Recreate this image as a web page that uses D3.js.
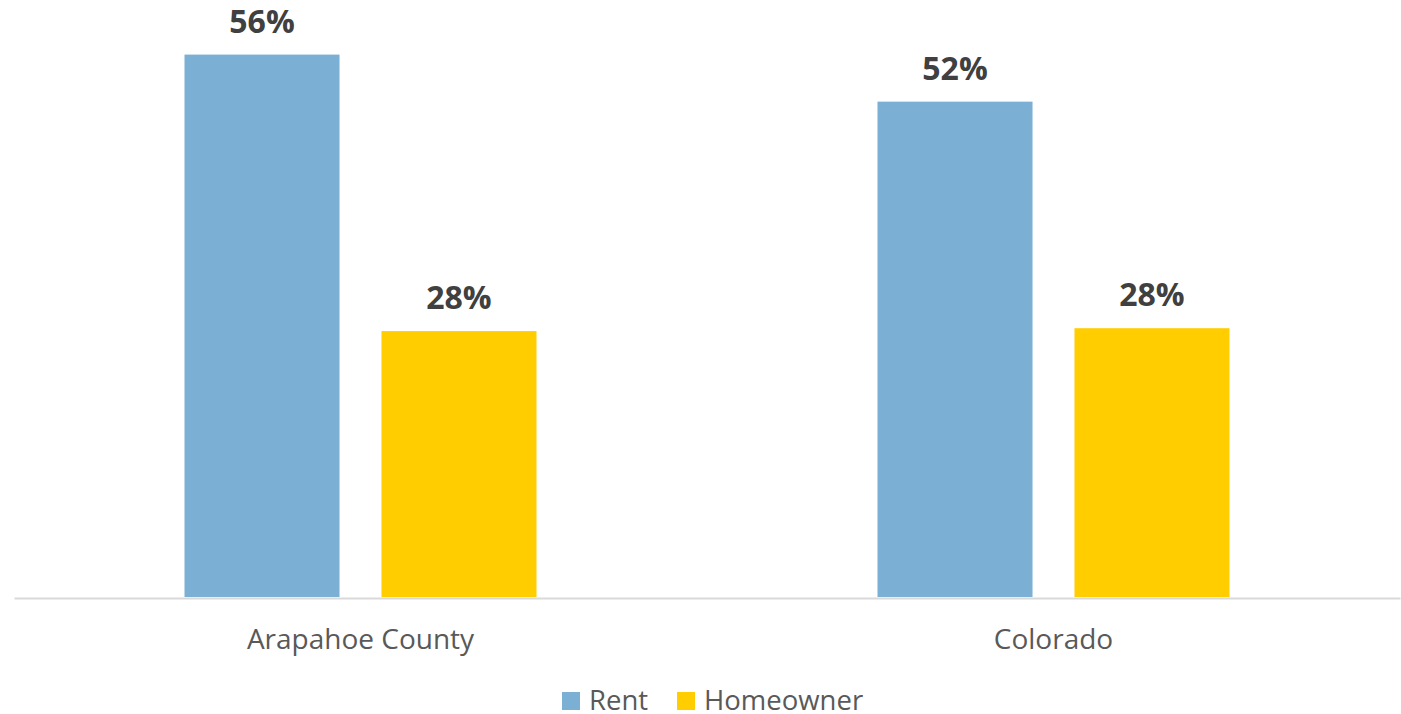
<!DOCTYPE html>
<html>
<head>
<meta charset="utf-8">
<script src="https://cdn.jsdelivr.net/npm/d3@7"></script>
<style>
  html, body { margin: 0; padding: 0; background: #fff; }
  svg { display: block; font-family: "Open Sans", sans-serif; }
</style>
</head>
<body>
<div id="chart"></div>
<script>
// Data
const categories = ["Arapahoe County", "Colorado"];
const seriesNames = ["Rent", "Homeowner"];
const rentValues = [0.565, 0.516];
const homeownerValues = [0.277, 0.280];

const colors = { Rent: "#7BAFD4", Homeowner: "#FFCD00" };

const WIDTH = 1401, HEIGHT = 714;
const baseY = 597;

const rows = categories.map((c, i) => ({
  category: c,
  values: [
    { series: "Rent", value: rentValues[i] },
    { series: "Homeowner", value: homeownerValues[i] }
  ]
}));

const svg = d3.select("#chart").append("svg")
  .attr("width", WIDTH)
  .attr("height", HEIGHT);

// Scales
const x0 = d3.scaleBand().domain(categories).range([14, 1400]).padding(0);
const groupW = 352;
const x1 = d3.scaleBand()
  .domain(seriesNames)
  .range([(x0.bandwidth() - groupW) / 2, (x0.bandwidth() + groupW) / 2])
  .paddingInner(0.213)
  .paddingOuter(0);
const y = d3.scaleLinear().domain([0, 0.6]).range([baseY, 21]);

// Bars
const groups = svg.append("g").selectAll("g")
  .data(rows)
  .join("g")
  .attr("transform", d => `translate(${x0(d.category)},0)`);

groups.selectAll("rect")
  .data(d => d.values)
  .join("rect")
  .attr("x", d => x1(d.series))
  .attr("y", d => y(d.value))
  .attr("width", x1.bandwidth())
  .attr("height", d => y(0) - y(d.value))
  .attr("fill", d => colors[d.series]);

groups.selectAll("text.value")
  .data(d => d.values)
  .join("text")
  .attr("class", "value")
  .attr("x", d => x1(d.series) + x1.bandwidth() / 2)
  .attr("y", d => y(d.value) - 22)
  .attr("text-anchor", "middle")
  .attr("font-size", 32)
  .attr("font-weight", "bold")
  .attr("fill", "#404040")
  .text(d => d3.format(".0%")(d.value));

// Axis
const xAxis = svg.append("g")
  .attr("transform", `translate(0,${baseY + 1})`)
  .call(d3.axisBottom(x0).tickSize(0).tickPadding(0));
xAxis.select(".domain").attr("stroke", "#d9d9d9").attr("stroke-width", 2);
xAxis.selectAll(".tick text")
  .attr("dy", 0)
  .attr("y", 51)
  .attr("font-size", 28)
  .attr("font-family", "Open Sans, sans-serif")
  .attr("fill", "#595959");

// Legend
const legend = svg.append("g").attr("transform", "translate(562,692)");
const legendX = [0, 115];
seriesNames.forEach((s, i) => {
  const g = legend.append("g").attr("transform", `translate(${legendX[i]},0)`);
  g.append("rect").attr("width", 18).attr("height", 18).attr("fill", colors[s]);
  g.append("text")
    .attr("x", 27)
    .attr("y", 18)
    .attr("font-size", 27.5)
    .attr("fill", "#595959")
    .text(s);
});
</script>
</body>
</html>
